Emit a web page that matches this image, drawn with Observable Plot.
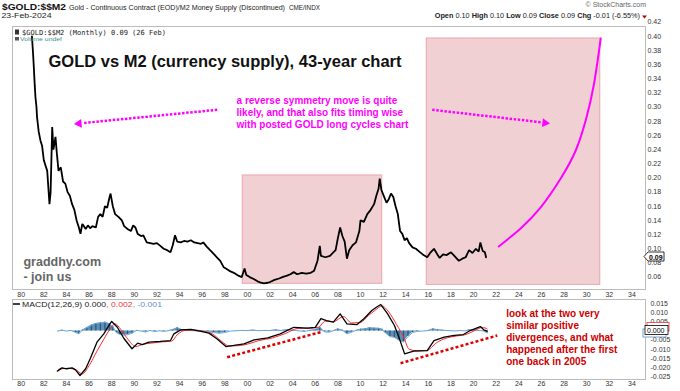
<!DOCTYPE html>
<html><head><meta charset="utf-8">
<script src="https://cdn.jsdelivr.net/npm/d3@7"></script>
<script src="https://cdn.jsdelivr.net/npm/@observablehq/plot@0.6"></script>
<style>
body{margin:0;background:#fff;}
#wrap{position:relative;width:680px;height:391px;overflow:hidden;font-family:"Liberation Sans",Arial,sans-serif;background:#fff;}
#main{position:absolute;left:0;top:0;}
#macd{position:absolute;left:0;top:298px;}
#deco{position:absolute;left:0;top:0;pointer-events:none;}
</style></head><body>
<div id="wrap"><div id="main"></div><div id="macd"></div><svg id="deco" width="680" height="391"></svg></div>
<script>
// ---- Gold / M2 ratio (monthly) ----
const ratioYears = [1980.95,1981.05,1981.1,1981.2,1981.26,1981.35,1981.4,1981.55,1981.7,1981.85,1982.0,1982.3,1982.5,1982.6,1982.74,1982.85,1983.03,1983.15,1983.3,1983.5,1983.7,1983.9,1984.1,1984.3,1984.5,1984.7,1984.9,1985.1,1985.24,1985.4,1985.5,1985.7,1985.9,1986.1,1986.3,1986.6,1986.8,1987.0,1987.2,1987.4,1987.6,1987.8,1987.9,1988.1,1988.3,1988.6,1988.9,1989.1,1989.4,1989.7,1989.9,1990.1,1990.3,1990.6,1990.8,1991.1,1991.4,1991.7,1992.0,1992.3,1992.6,1992.9,1993.2,1993.4,1993.6,1993.8,1994.1,1994.4,1994.7,1995.0,1995.3,1995.6,1995.9,1996.1,1996.4,1996.7,1997.0,1997.3,1997.6,1997.9,1998.1,1998.5,1998.8,1999.2,1999.5,1999.75,1999.9,2000.2,2000.6,2000.9,2001.2,2001.45,2001.8,2002.0,2002.4,2002.8,2003.1,2003.5,2003.8,2004.1,2004.4,2004.8,2005.2,2005.6,2005.9,2006.2,2006.4,2006.5,2006.9,2007.3,2007.6,2007.8,2008.0,2008.2,2008.4,2008.6,2008.8,2009.0,2009.3,2009.6,2009.9,2010.0,2010.3,2010.6,2010.9,2011.2,2011.4,2011.6,2011.7,2011.85,2012.1,2012.3,2012.5,2012.7,2012.9,2013.1,2013.3,2013.5,2013.7,2013.9,2014.1,2014.3,2014.6,2014.9,2015.2,2015.5,2015.9,2016.2,2016.5,2016.8,2017.0,2017.3,2017.6,2018.0,2018.3,2018.7,2019.0,2019.3,2019.6,2019.9,2020.2,2020.45,2020.6,2020.8,2021.0,2021.1];
const ratioValues = [0.400,0.375,0.361,0.330,0.314,0.300,0.286,0.265,0.253,0.245,0.225,0.210,0.163,0.180,0.272,0.240,0.258,0.235,0.210,0.215,0.195,0.192,0.180,0.175,0.163,0.155,0.140,0.130,0.121,0.135,0.133,0.128,0.133,0.129,0.132,0.130,0.145,0.149,0.145,0.160,0.158,0.172,0.178,0.160,0.149,0.145,0.140,0.132,0.128,0.125,0.133,0.130,0.121,0.118,0.119,0.109,0.108,0.107,0.108,0.104,0.100,0.098,0.095,0.105,0.119,0.110,0.109,0.111,0.110,0.112,0.109,0.108,0.107,0.109,0.103,0.098,0.093,0.088,0.083,0.074,0.072,0.068,0.066,0.062,0.060,0.072,0.063,0.060,0.057,0.054,0.052,0.051,0.052,0.053,0.056,0.058,0.060,0.062,0.064,0.067,0.064,0.066,0.065,0.066,0.069,0.083,0.104,0.090,0.088,0.090,0.095,0.098,0.115,0.130,0.118,0.110,0.086,0.098,0.105,0.109,0.125,0.140,0.138,0.149,0.155,0.163,0.175,0.185,0.199,0.183,0.173,0.165,0.170,0.178,0.173,0.160,0.149,0.125,0.121,0.112,0.115,0.108,0.102,0.100,0.096,0.092,0.088,0.095,0.100,0.092,0.087,0.092,0.091,0.095,0.090,0.083,0.086,0.088,0.098,0.094,0.100,0.096,0.109,0.097,0.095,0.088];

// ---- projected "reverse symmetry" curve ----
const projYears = [2022.22,2024.16,2025.93,2027.7,2029.03,2029.91,2030.62,2031.24];
const projValues = [0.1032,0.1286,0.1583,0.1992,0.2388,0.2812,0.3306,0.3970];

// ---- shaded zones ----
const zoneStart = [1999.59, 2015.86];
const zoneEnd = [2011.92, 2031.2];
const zoneLow = [0.0505, 0.049];
const zoneHigh = [0.2035, 0.397];

// ---- MACD(12,26,9) ----
const macdYears = [1983.2,1983.6,1984.0,1984.5,1984.8,1985.2,1985.7,1986.1,1986.7,1987.3,1987.75,1988.0,1988.5,1989.1,1989.8,1990.3,1990.7,1991.3,1992.3,1993.2,1993.5,1994.1,1995.0,1995.9,1996.6,1997.3,1998.1,1998.8,1999.7,2000.6,2001.8,2002.9,2004.1,2005.3,2006.0,2006.5,2007.0,2007.6,2008.2,2008.8,2009.7,2010.3,2011.0,2011.5,2011.8,2012.4,2013.0,2013.5,2013.9,2014.7,2015.9,2016.5,2017.4,2018.3,2019.1,2019.7,2020.6,2020.9,2021.2];
const macdValues = [-0.022,-0.0202,-0.0207,-0.0202,-0.0213,-0.0244,-0.0207,-0.0152,-0.0061,-0.0015,0.0031,0.0053,0.0021,-0.0042,-0.0097,-0.0066,-0.0074,-0.0061,-0.0057,-0.0052,-0.0015,0.0007,0.0009,-0.0002,-0.0011,-0.0042,-0.0085,-0.0079,-0.0070,-0.0048,-0.0037,-0.0015,0.0021,0.0016,0.0021,0.0068,0.0058,0.0049,0.0095,0.0040,0.0036,0.0068,0.0113,0.0135,0.0146,0.0095,0.0031,-0.0052,-0.0125,-0.0110,-0.0107,-0.0052,-0.0033,-0.0024,-0.0019,0.0003,0.0025,0.0007,0.0000];
const signalYears = [1983.3,1984.0,1984.7,1985.4,1986.0,1986.7,1987.3,1987.9,1988.3,1988.8,1989.5,1990.1,1990.8,1991.5,1992.5,1993.3,1993.8,1994.5,1995.3,1996.2,1996.9,1997.7,1998.4,1999.2,2000.0,2001.0,2002.2,2003.4,2004.5,2005.6,2006.3,2006.9,2007.6,2008.5,2009.2,2010.0,2010.7,2011.3,2011.9,2012.5,2013.2,2013.8,2014.3,2015.0,2015.9,2016.7,2017.6,2018.5,2019.4,2020.0,2020.8,2021.2];
const signalValues = [-0.021,-0.0205,-0.0208,-0.0235,-0.019,-0.011,-0.0045,0.0015,0.004,0.001,-0.005,-0.0085,-0.0072,-0.0066,-0.0059,-0.0055,-0.002,0.0004,0.0006,-0.0002,-0.0015,-0.0055,-0.0082,-0.0080,-0.0072,-0.0052,-0.0038,-0.0012,0.0015,0.0016,0.0022,0.0055,0.0052,0.0080,0.0045,0.0048,0.0085,0.0115,0.0138,0.0105,0.0035,-0.0030,-0.0100,-0.0108,-0.0106,-0.0065,-0.0038,-0.0027,-0.0017,0.0000,0.0020,0.0012];
const histYears = [1983.2,1983.6,1984.0,1984.4,1984.8,1985.1,1985.4,1985.8,1986.2,1986.6,1987.0,1987.4,1987.8,1988.1,1988.4,1988.7,1989.0,1989.4,1989.8,1990.2,1990.6,1991.0,1991.4,1991.8,1992.2,1992.6,1993.0,1993.4,1993.8,1994.2,1994.6,1995.0,1995.5,1996.0,1996.5,1997.0,1997.5,1998.0,1998.5,1999.0,1999.5,2000.0,2000.5,2001.0,2001.5,2002.0,2002.5,2003.0,2003.5,2004.0,2004.5,2005.0,2005.5,2006.0,2006.4,2006.8,2007.2,2007.6,2008.0,2008.4,2008.8,2009.2,2009.6,2010.0,2010.4,2010.8,2011.2,2011.6,2011.9,2012.2,2012.6,2013.0,2013.4,2013.8,2014.2,2014.6,2015.0,2015.5,2016.0,2016.4,2016.8,2017.2,2017.6,2018.0,2018.4,2018.8,2019.2,2019.6,2020.0,2020.4,2020.8,2021.2];
const histValues = [0.0,0.0005,0.0,0.0004,-0.0008,-0.0015,0.0005,0.0018,0.0032,0.0042,0.0045,0.0048,0.0040,0.0025,-0.0008,-0.0018,-0.0022,-0.0020,-0.0012,0.0004,0.0,-0.0005,0.0004,-0.0003,0.0002,-0.0002,0.0002,0.0008,0.0018,0.0008,0.0004,0.0003,0.0001,-0.0002,-0.0004,-0.0008,-0.0012,-0.0008,0.0,0.0002,0.0004,0.0003,0.0005,0.0002,0.0004,0.0003,0.0006,0.0003,0.0008,0.0005,0.0002,-0.0002,0.0004,0.0008,0.0022,-0.0004,-0.0006,0.0002,0.0012,0.0005,-0.0015,-0.0006,0.0004,0.0010,0.0012,0.0018,0.0016,0.0015,0.0010,-0.0010,-0.0030,-0.0035,-0.0050,-0.0060,-0.0030,-0.0008,-0.0002,0.0,0.0003,0.0012,0.0008,0.0005,0.0003,0.0002,0.0001,0.0003,0.0001,0.0006,0.0007,0.0004,0.0002,-0.0010];

// ---- divergence lines on MACD ----
const divX1 = [1998.21, 2013.54], divY1 = [-0.01434, -0.01764];
const divX2 = [2006.46, 2022.09], divY2 = [-0.0006, -0.00242];

// ---- arrows (magenta, dotted) ----
const arrowX1 = [1997.33, 2016.34], arrowY1 = [0.2963, 0.2963];
const arrowX2 = [1985.42, 2026.0], arrowY2 = [0.2775, 0.2786];
const headX = [1985.11, 2026.31], headY = [0.2769, 0.2779], headAngle = [-95.6, 96.5];

// ---- ticks ----
const yearTicks = d3.range(1980, 2035, 2);
const mainTicks = d3.range(0.06, 0.4201, 0.02).map(d => +d.toFixed(2));
const macdTicks = [0.015,0.010,0.005,-0.005,-0.010,-0.015,-0.020,-0.025];

// ---- annotation texts ----
const titleText = "GOLD vs M2 (currency supply), 43-year chart";
const pinkNote = "a reverse symmetry move is quite\nlikely, and that also fits timing wise\nwith posted GOLD long cycles chart";
const siteNote = "graddhy.com\n- join us";
const redNote = "look at the two very\nsimilar positive\ndivergences, and what\nhappened after the first\none back in 2005";

// build tables
const ratio = ratioYears.map((year, i) => ({year, value: ratioValues[i]}));
const proj = projYears.map((year, i) => ({year, value: projValues[i]}));
const zones = zoneStart.map((x1, i) => ({x1, x2: zoneEnd[i], y1: zoneLow[i], y2: zoneHigh[i]}));
const macd = macdYears.map((year, i) => ({year, value: macdValues[i]}));
const signal = signalYears.map((year, i) => ({year, value: signalValues[i]}));
const hist = histYears.map((year, i) => ({year, value: histValues[i]}));
const divs = divX1.map((x1, i) => ({x1, y1: divY1[i], x2: divX2[i], y2: divY2[i]}));
const arrows = arrowX1.map((x1, i) => ({x1, y1: arrowY1[i], x2: arrowX2[i], y2: arrowY2[i], hx: headX[i], hy: headY[i], a: headAngle[i]}));

const xDomain = [1979.23, 2035.2];
const fmtYear = d => String(d % 100).padStart(2, "0");
const font = "'Liberation Sans', Arial, sans-serif";
const baseStyle = {fontFamily: font, fontSize: "7px", color: "#333", background: "transparent", overflow: "visible"};

const mainPlot = Plot.plot({
  width: 680, height: 298,
  marginLeft: 12, marginRight: 35, marginTop: 26, marginBottom: 9,
  x: {domain: xDomain},
  y: {domain: [0.04246, 0.41393]},
  style: baseStyle,
  marks: [
    Plot.rect(zones, {x1: "x1", x2: "x2", y1: "y1", y2: "y2", fill: "#f0d0d3", stroke: "#eba4ac", strokeWidth: 1}),
    Plot.frame({stroke: "#bbb"}),
    Plot.axisX({ticks: yearTicks, tickFormat: fmtYear, tickSize: 0, tickPadding: 3, label: null}),
    Plot.axisY({anchor: "right", ticks: mainTicks, tickFormat: d => d.toFixed(2), tickSize: 0, tickPadding: 2, label: null}),
    Plot.line(ratio, {x: "year", y: "value", stroke: "#000", strokeWidth: 1.8, strokeLinejoin: "miter"}),
    Plot.line(proj, {x: "year", y: "value", stroke: "#ff00ff", strokeWidth: 2, curve: "natural"}),
    Plot.link(arrows, {x1: "x1", y1: "y1", x2: "x2", y2: "y2", stroke: "#ff00ff", strokeWidth: 2.5, strokeDasharray: "2.5,1.6"}),
    Plot.dot(arrows, {x: "hx", y: "hy", symbol: "triangle2", r: 4.2, fill: "#ff00ff", rotate: "a"}),
    Plot.text([titleText], {x: () => 1982.41, y: () => 0.3564, text: d => d, textAnchor: "start", lineAnchor: "bottom", fontSize: 16.5, fontWeight: "bold", fill: "#111"}),
    Plot.text([pinkNote], {x: () => 1999.04, y: () => 0.2708, text: d => d, textAnchor: "start", lineAnchor: "bottom", lineHeight: 1.2, fontSize: 10, fontWeight: "bold", fill: "#ff00ff"}),
    Plot.text([siteNote], {x: () => 1980.2, y: () => 0.0545, text: d => d, textAnchor: "start", lineAnchor: "bottom", lineHeight: 1.16, fontSize: 12.5, fontWeight: "bold", fill: "#666"})
  ]
});
document.getElementById("main").append(mainPlot);

const macdPlot = Plot.plot({
  width: 680, height: 93,
  marginLeft: 12, marginRight: 35, marginTop: 1, marginBottom: 12,
  x: {domain: xDomain},
  y: {domain: [-0.0266, 0.01737]},
  style: baseStyle,
  marks: [
    Plot.frame({stroke: "#bbb"}),
    Plot.axisX({ticks: yearTicks, tickFormat: fmtYear, tickSize: 0, tickPadding: 2, label: null}),
    Plot.axisY({anchor: "right", ticks: macdTicks, tickFormat: d => d.toFixed(3), tickSize: 0, tickPadding: 5, label: null}),
    Plot.areaY(hist, {x: "year", y: "value", fill: "#2c6a98", fillOpacity: 0.75}),
    Plot.ruleX(hist, {x: "year", y1: 0, y2: "value", stroke: "#1f5a88", strokeWidth: 1.2}),
    Plot.line(hist, {x: "year", y: "value", stroke: "#6fa8d8", strokeWidth: 1}),
    Plot.line(signal, {x: "year", y: "value", stroke: "#ff2a2a", strokeWidth: 1, curve: "monotone-x"}),
    Plot.line(macd, {x: "year", y: "value", stroke: "#000", strokeWidth: 1.3}),
    Plot.link(divs, {x1: "x1", y1: "y1", x2: "x2", y2: "y2", stroke: "#dd0000", strokeWidth: 2.5, strokeDasharray: "3,2.2"}),
    Plot.text([redNote], {x: () => 2022.88, y: () => -0.0189, text: d => d, textAnchor: "start", lineAnchor: "bottom", lineHeight: 1.21, fontSize: 10, fontWeight: "bold", fill: "#cc0000"})
  ]
});
document.getElementById("macd").append(macdPlot);

// ---- StockCharts-style header, legends and value tags ----
const deco = d3.select("#deco").style("font-family", font);
function t(x, y, str, o = {}) {
  const el = deco.append("text").attr("x", x).attr("y", y)
    .attr("font-size", o.size || 7).attr("fill", o.fill || "#222")
    .attr("font-weight", o.bold ? "bold" : null)
    .attr("text-anchor", o.anchor || "start").text(str);
  if (o.family) el.attr("font-family", o.family);
  if (o.len) el.attr("textLength", o.len).attr("lengthAdjust", "spacingAndGlyphs");
  return el;
}
t(2, 9.5, "$GOLD:$$M2", {size: 9, bold: true, fill: "#111", len: 64});
t(69, 9.5, "Gold - Continuous Contract (EOD)/M2 Money Supply (Discontinued)", {size: 7, len: 216});
t(289, 9.5, "CME/INDX", {size: 6.5, len: 31});
t(1.5, 17.5, "23-Feb-2024", {size: 7, len: 50});
t(646, 7, "© StockCharts.com", {size: 7, fill: "#666", anchor: "end"});
const ohlc = deco.append("text").attr("x", 640).attr("y", 17.5).attr("font-size", 7.3).attr("text-anchor", "end").attr("fill", "#222");
[["Open", 1], [" 0.10 ", 0], ["High", 1], [" 0.10 ", 0], ["Low", 1], [" 0.09 ", 0], ["Close", 1], [" 0.09 ", 0], ["Chg", 1], [" -0.01 (-6.55%)", 0]]
  .forEach(([s, b]) => ohlc.append("tspan").attr("font-weight", b ? "bold" : null).text(s));
deco.append("path").attr("d", "M642,15.5 L647,15.5 L644.5,18.5 Z").attr("fill", "#b00");

// legend inside price panel
deco.append("rect").attr("x", 15).attr("y", 29.5).attr("width", 4).attr("height", 5).attr("fill", "#333");
t(22, 35, "$GOLD:$$M2 (Monthly) 0.09 (26 Feb)", {size: 7, family: "'DejaVu Sans Mono', 'Liberation Mono', monospace", len: 144});
deco.append("rect").attr("x", 15).attr("y", 37).attr("width", 4).attr("height", 3.5).attr("fill", "#555");
t(20, 40.5, "Volume undef", {size: 6, fill: "#3b8f8f", len: 42});

// legend inside MACD panel
deco.append("line").attr("x1", 13).attr("x2", 20).attr("y1", 304).attr("y2", 304).attr("stroke", "#000").attr("stroke-width", 1.5);
const ml = deco.append("text").attr("x", 22).attr("y", 306.5).attr("font-size", 7).attr("textLength", 140).attr("lengthAdjust", "spacingAndGlyphs");
ml.append("tspan").attr("fill", "#222").text("MACD(12,26,9) 0.000");
ml.append("tspan").attr("fill", "#e33").text(", 0.002");
ml.append("tspan").attr("fill", "#5b8fc6").text(", -0.001");

// value tags on the right axes
deco.append("path").attr("d", "M644,256.5 L648,252 L664,252 L664,261 L648,261 Z").attr("fill", "#fff").attr("stroke", "#000").attr("stroke-width", 0.8);
t(649, 259.5, "0.09", {size: 7, bold: true, fill: "#000"});
deco.append("rect").attr("x", 647).attr("y", 322.5).attr("width", 22).attr("height", 8.5).attr("fill", "#fff").attr("stroke", "#e33").attr("stroke-width", 0.8);
deco.append("rect").attr("x", 643).attr("y", 329).attr("width", 23).attr("height", 8).attr("fill", "#fff").attr("stroke", "#5b8fc6").attr("stroke-width", 0.8);
deco.append("rect").attr("x", 645).attr("y", 325.5).attr("width", 23).attr("height", 9).attr("fill", "#fff").attr("stroke", "#000").attr("stroke-width", 0.8);
t(647, 332.5, "0.000", {size: 7, fill: "#000"});
</script>
</body></html>
